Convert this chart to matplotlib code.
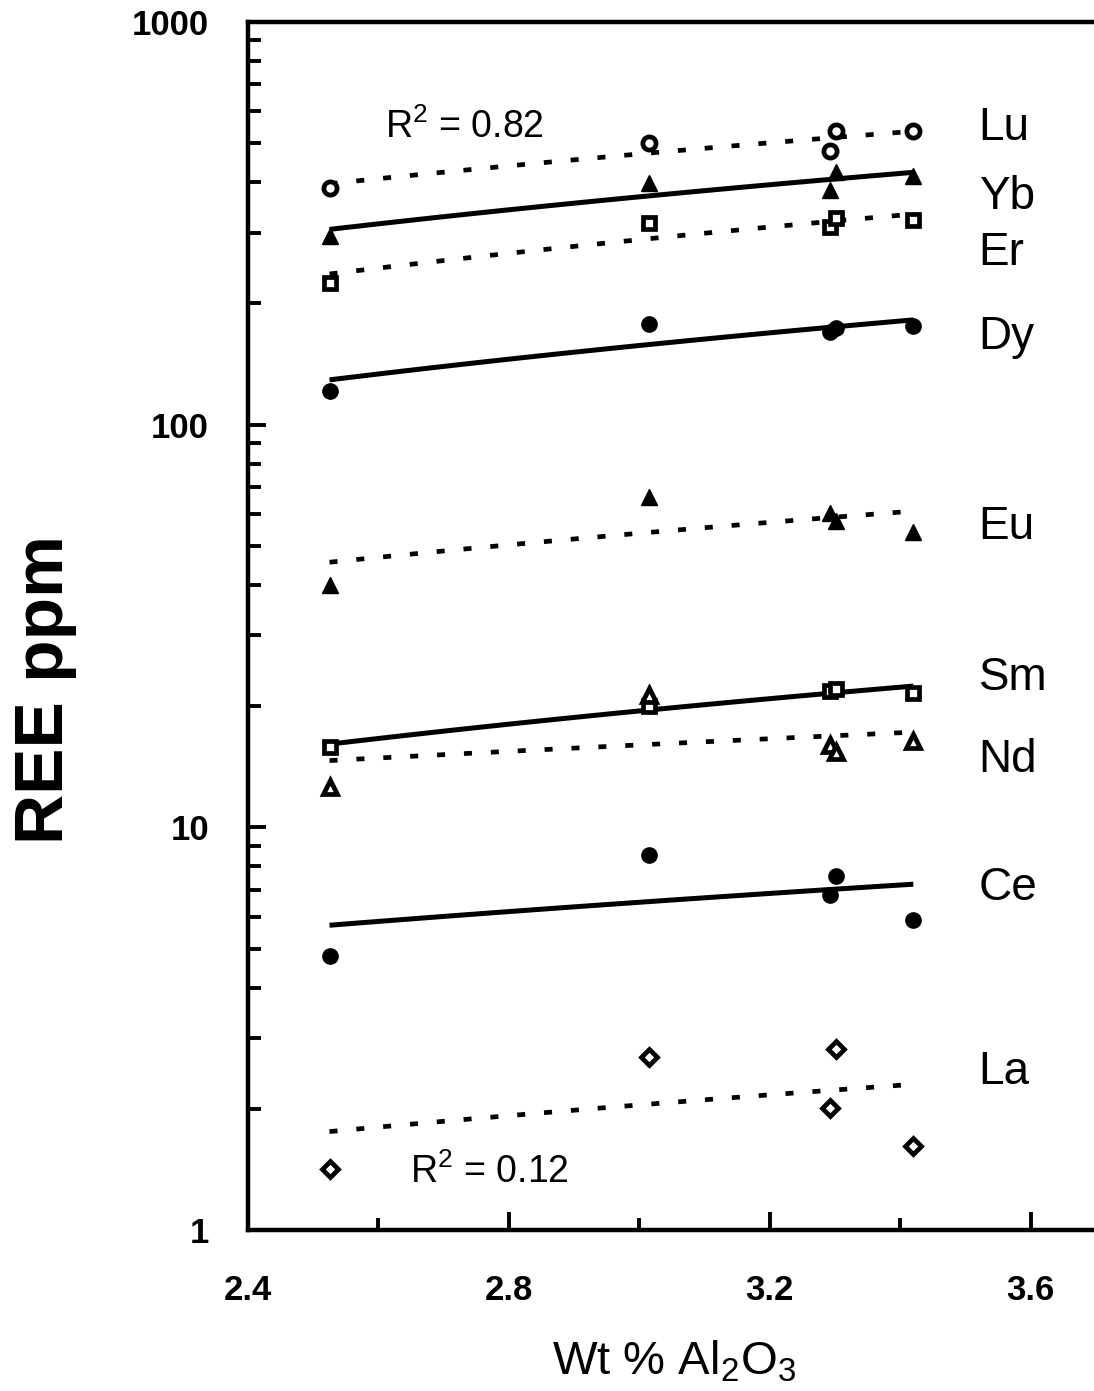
import numpy as np
import matplotlib
matplotlib.use("Agg")
import matplotlib.pyplot as plt
from matplotlib.ticker import FixedLocator, LogLocator, NullFormatter, FixedFormatter

plt.rcParams['font.family'] = ['Liberation Sans', 'DejaVu Sans']
plt.rcParams['mathtext.fontset'] = 'custom'
plt.rcParams['mathtext.rm'] = 'Liberation Sans'
plt.rcParams['mathtext.it'] = 'Liberation Sans'

# Sample Al2O3 contents (wt %)
al2o3 = [2.525, 3.015, 3.292, 3.302, 3.42]

# REE concentrations (ppm) per sample
lu = [387, 500, 478, 536, 536]
yb = [294, 398, 383, 424, 414]
er = [225, 317, 310, 326, 322]
dy = [121, 178, 170, 174, 176]
eu = [40.0, 66.1, 60.4, 57.7, 54.1]
sm = [15.8, 20.0, 21.8, 22.0, 21.6]
nd = [12.6, 21.3, 16.0, 15.4, 16.4]
ce = [4.78, 8.52, 6.78, 7.55, 5.88]
la = [1.42, 2.69, 2.01, 2.82, 1.62]

elements = ['Lu', 'Yb', 'Er', 'Dy', 'Eu', 'Sm', 'Nd', 'Ce', 'La']
values = [lu, yb, er, dy, eu, sm, nd, ce, la]
markers = ['o', '^', 's', 'o', '^', 's', '^', 'o', 'D']
filled = [False, True, False, True, True, False, False, True, False]
msizes = [9.5, 12, 9, 11, 12, 9, 10.5, 11, 8]
solid = [False, True, False, True, False, True, False, True, False]
label_y = [545, 367, 267, 165, 55.7, 23.5, 14.7, 7.07, 2.47]
label_x = 3.52

xticks_major = [2.4, 2.8, 3.2, 3.6]
xticks_minor = [2.6, 3.0, 3.4]
yticks = [1, 10, 100, 1000]
ytick_labels = ['1', '10', '100', '1000']

W, H = 1094, 1391
fig = plt.figure(figsize=(W / 100, H / 100), dpi=100)
ax = fig.add_axes([248 / W, 1 - 1230 / H, 848 / W, (1230 - 22) / H])
ax.set_yscale('log')
ax.set_xlim(2.4, 3.7)
ax.set_ylim(1, 1000)

x = np.array(al2o3)
xs = np.linspace(x.min(), x.max(), 100)
for el, v, m, f, ms, s in zip(elements, values, markers, filled, msizes, solid):
    v = np.array(v, dtype=float)
    slope, icpt = np.polyfit(x, v, 1)
    if s:
        ax.plot(xs, slope * xs + icpt, color='black', lw=3.6, solid_capstyle='butt', zorder=2)
    else:
        ax.plot(xs, slope * xs + icpt, color='black', lw=3.4, linestyle=(0, (1.7, 4.0)), zorder=2)
    ax.plot(x, v, linestyle='none', marker=m, markersize=ms,
            markerfacecolor='black' if f else 'white', markeredgecolor='black',
            markeredgewidth=1 if f else 3.4, zorder=3)

for el, ly in zip(elements, label_y):
    ax.text(label_x, ly, el, fontsize=33, ha='left', va='center')

ax.text(2.61, 515, 'R$^2$ = 0.82', fontsize=27, ha='left', va='baseline')
ax.text(2.648, 1.31, 'R$^2$ = 0.12', fontsize=27, ha='left', va='baseline')

ax.spines['right'].set_visible(False)
for sp in ['left', 'top', 'bottom']:
    ax.spines[sp].set_linewidth(3.2)

ax.xaxis.set_major_locator(FixedLocator(xticks_major))
ax.xaxis.set_minor_locator(FixedLocator(xticks_minor))
ax.set_xticklabels([f'{t:.1f}' for t in xticks_major], fontweight='bold')
ax.yaxis.set_major_locator(FixedLocator(yticks))
ax.yaxis.set_major_formatter(FixedFormatter(ytick_labels))
ax.yaxis.set_minor_locator(LogLocator(base=10, subs=np.arange(2, 10)))
ax.yaxis.set_minor_formatter(NullFormatter())
for lab in ax.get_yticklabels():
    lab.set_fontweight('bold')

ax.tick_params(axis='both', which='major', direction='in', length=13, width=2.8, labelsize=25)
ax.tick_params(axis='both', which='minor', direction='in', length=9, width=2.8)
ax.tick_params(axis='x', which='major', pad=32)
ax.tick_params(axis='y', which='major', pad=28)
ax.tick_params(top=False, right=False, which='both')

fig.text(45 / W, 1 - 690 / H, 'REE ppm', rotation=90, fontsize=50, fontweight='bold',
         ha='center', va='center')
fig.text(674 / W, 1 - 1362 / H, r'Wt % Al$_2$O$_3$', fontsize=34, ha='center', va='center')

fig.savefig('out.png', dpi=100)
